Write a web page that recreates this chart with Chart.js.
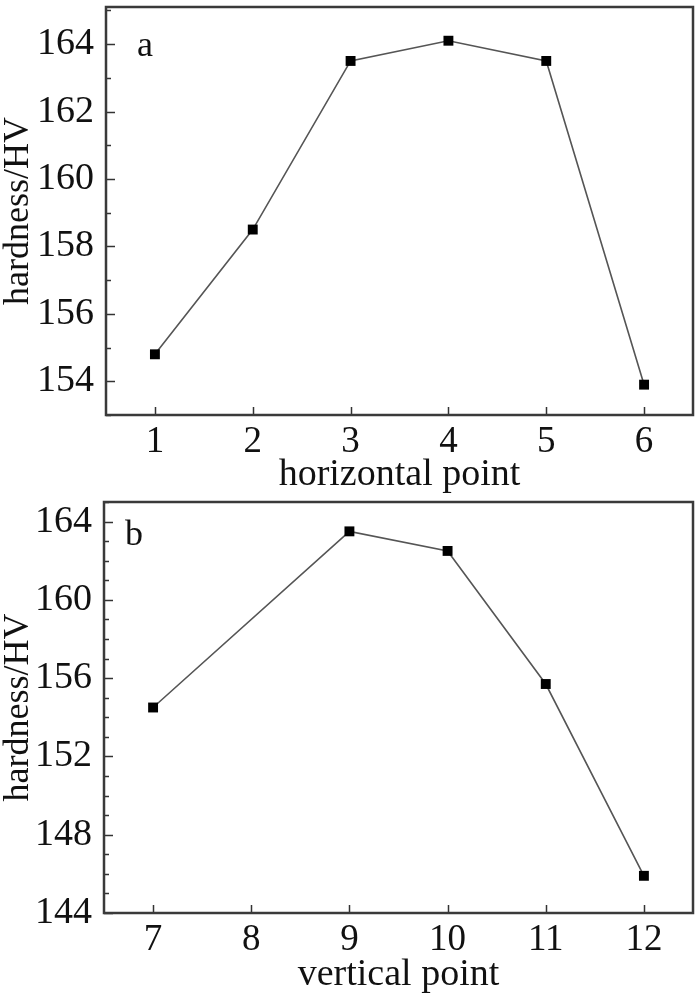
<!DOCTYPE html>
<html>
<head>
<meta charset="utf-8">
<script src="https://cdn.jsdelivr.net/npm/chart.js@4.4.1/dist/chart.umd.min.js"></script>
<style>
    html, body { margin: 0; padding: 0; background: #fff; }
    #wrap { position: relative; width: 700px; height: 994px; }
    .panel { position: absolute; left: 0; width: 700px; }
    #panelA { top: 0; height: 494px; }
    #panelB { top: 494px; height: 500px; }
</style>
</head>
<body>
<div id="wrap">
    <div class="panel" id="panelA"><canvas id="chartA" width="700" height="494"></canvas></div>
    <div class="panel" id="panelB"><canvas id="chartB" width="700" height="500"></canvas></div>
</div>
<script>
// --- dados ---
const horizPoints = [1, 2, 3, 4, 5, 6];
const horizHardness = [154.8, 158.5, 163.5, 164.1, 163.5, 153.9];
const horizXTicks = [1, 2, 3, 4, 5, 6];
const horizYTicks = [154, 156, 158, 160, 162, 164];

const vertPoints = [7, 9, 10, 11, 12];
const vertHardness = [154.5, 163.5, 162.5, 155.7, 145.9];
const vertXTicks = [7, 8, 9, 10, 11, 12];
const vertYTicks = [144, 148, 152, 156, 160, 164];

const FONT = '"Liberation Serif", "Times New Roman", serif';
const INK = '#111';

document.addEventListener('DOMContentLoaded', () => {

    // moldura + ticks para dentro + letra do painel
    const framePlugin = {
        id: 'frame',
        afterDraw(chart, args, opts) {
            const ctx = chart.ctx;
            const a = chart.chartArea;
            const xs = chart.scales.x, ys = chart.scales.y;
            ctx.save();
            ctx.strokeStyle = '#333';
            ctx.lineWidth = 1.5;
            ys.ticks.forEach(t => {
                const y = Math.round(ys.getPixelForValue(t.value)) + 0.5;
                const len = opts.yMajors.includes(t.value) ? 9 : 5;
                ctx.beginPath(); ctx.moveTo(a.left, y); ctx.lineTo(a.left + len, y); ctx.stroke();
            });
            xs.ticks.forEach(t => {
                const x = Math.round(xs.getPixelForValue(t.value)) + 0.5;
                ctx.beginPath(); ctx.moveTo(x, a.bottom); ctx.lineTo(x, a.bottom - 8); ctx.stroke();
            });
            ctx.lineWidth = 2.5;
            ctx.strokeStyle = '#3a3a3a';
            ctx.strokeRect(a.left, a.top, a.right - a.left, a.bottom - a.top);
            ctx.fillStyle = INK;
            ctx.font = '36px ' + FONT;
            ctx.textBaseline = 'alphabetic';
            ctx.fillText(opts.letter, a.left + opts.lx, a.top + opts.ly);
            ctx.restore();
        }
    };

    function makeChart(canvas, xs, ys, cfg) {
        return new Chart(canvas, {
            type: 'line',
            data: {
                datasets: [{
                    data: xs.map((x, i) => ({ x: x, y: ys[i] })),
                    borderColor: '#555',
                    borderWidth: 1.6,
                    pointStyle: 'rect',
                    pointRadius: 7,
                    pointBackgroundColor: '#000',
                    pointBorderColor: '#000',
                    pointBorderWidth: 0,
                    tension: 0
                }]
            },
            options: {
                responsive: false,
                animation: false,
                layout: { padding: { top: cfg.top, right: cfg.right, left: 0, bottom: 0 } },
                plugins: {
                    legend: { display: false },
                    tooltip: { enabled: false },
                    frame: { letter: cfg.letter, lx: cfg.lx, ly: cfg.ly, yMajors: cfg.yTicks }
                },
                scales: {
                    x: {
                        type: 'linear',
                        min: cfg.xMin, max: cfg.xMax,
                        grid: { display: false },
                        border: { display: false },
                        afterBuildTicks: s => { s.ticks = cfg.xTicks.map(v => ({ value: v })); },
                        ticks: {
                            autoSkip: false, maxRotation: 0, padding: -3,
                            color: INK, font: { family: FONT, size: 37 },
                            callback: v => String(v)
                        },
                        title: {
                            display: true, text: cfg.xTitle, color: INK,
                            font: { family: FONT, size: 38, lineHeight: 1 },
                            padding: { top: 0, bottom: 0 }
                        },
                        afterFit: s => { s.height = cfg.xH; s.paddingLeft = 0; s.paddingRight = 0; }
                    },
                    y: {
                        min: cfg.yMin, max: cfg.yMax,
                        grid: { display: false },
                        border: { display: false },
                        afterBuildTicks: s => {
                            const t = [];
                            for (let v = Math.ceil(cfg.yMin); v <= cfg.yMax; v++) t.push({ value: v });
                            s.ticks = t;
                        },
                        ticks: {
                            autoSkip: false, padding: 4,
                            color: INK, font: { family: FONT, size: 38 },
                            callback: v => cfg.yTicks.includes(v) ? String(v) : ''
                        },
                        title: {
                            display: true, text: 'hardness/HV', color: INK,
                            font: { family: FONT, size: 36, lineHeight: 1 },
                            padding: { top: 1, bottom: 0 }
                        },
                        afterFit: s => { s.width = cfg.yW; s.paddingTop = 0; s.paddingBottom = 0; }
                    }
                }
            },
            plugins: [framePlugin]
        });
    }

    makeChart(document.getElementById('chartA'), horizPoints, horizHardness, {
        top: 4, right: 7, xH: 79, yW: 106,
        xMin: 0.5, xMax: 6.5, yMin: 153, yMax: 165.1,
        xTicks: horizXTicks, yTicks: horizYTicks,
        xTitle: 'horizontal point', letter: 'a', lx: 31, ly: 49
    });

    makeChart(document.getElementById('chartB'), vertPoints, vertHardness, {
        top: 8, right: 5, xH: 81, yW: 104,
        xMin: 6.5, xMax: 12.5, yMin: 144, yMax: 165,
        xTicks: vertXTicks, yTicks: vertYTicks,
        xTitle: 'vertical point', letter: 'b', lx: 21, ly: 43
    });
});
</script>
</body>
</html>
